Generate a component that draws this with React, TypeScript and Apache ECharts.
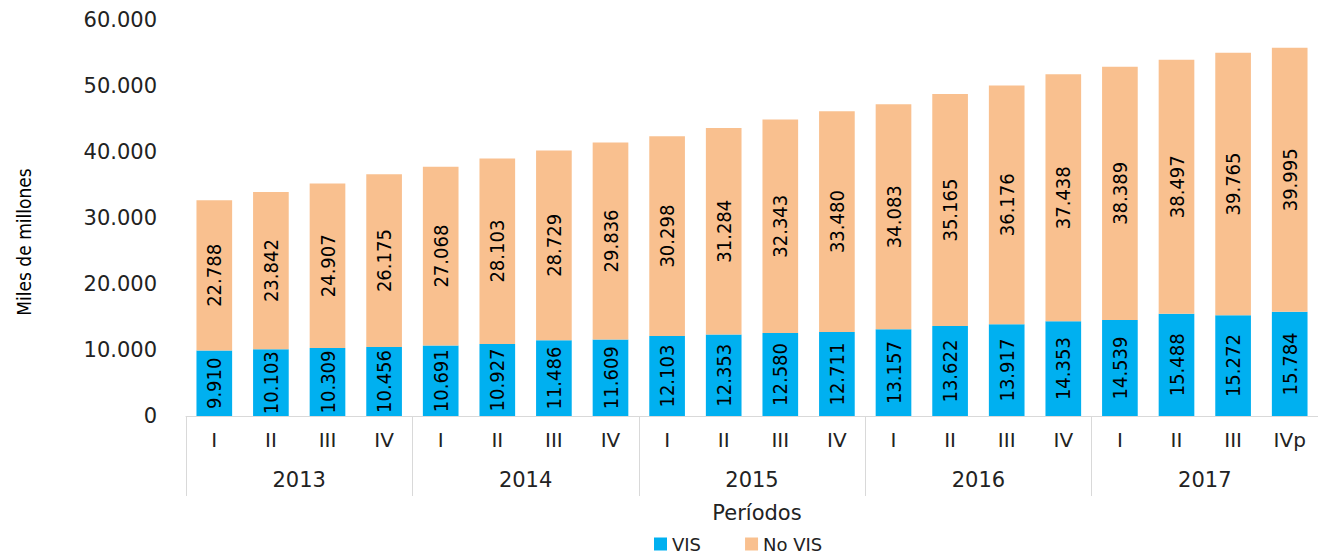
import React, { useEffect, useRef } from "react";
import * as echarts from "echarts";

const quarters = ["I", "II", "III", "IV", "I", "II", "III", "IV", "I", "II", "III", "IV", "I", "II", "III", "IV", "I", "II", "III", "IVp"];
const years = ["2013", "2014", "2015", "2016", "2017"];
const visValues = [9910, 10103, 10309, 10456, 10691, 10927, 11486, 11609, 12103, 12353, 12580, 12711, 13157, 13622, 13917, 14353, 14539, 15488, 15272, 15784];
const noVisValues = [22788, 23842, 24907, 26175, 27068, 28103, 28729, 29836, 30298, 31284, 32343, 33480, 34083, 35165, 36176, 37438, 38389, 38497, 39765, 39995];
const yTicks = [0, 10000, 20000, 30000, 40000, 50000, 60000];

const fmt = (v: number) => String(Math.round(v)).replace(/\B(?=(\d{3})+(?!\d))/g, ".");

const AXIS_FONT = "DejaVu Sans";
const NARROW_FONT = "DejaVu Sans Condensed";

export default function App() {
  const ref = useRef<HTMLDivElement>(null);
  useEffect(() => {
    if (!ref.current) return;
    const chart = echarts.init(ref.current, null, { renderer: "svg" });
    const barLabel = {
      show: true,
      position: "inside",
      rotate: 90,
      color: "#000",
      fontFamily: NARROW_FONT,
      fontSize: 20,
      formatter: (p: any) => fmt(p.value),
    };
    chart.setOption({
      animation: false,
      backgroundColor: "#fff",
      grid: { left: 186, top: 20, width: 1140, height: 396 },
      legend: {
        data: ["VIS", "No VIS"],
        top: 530,
        left: 649,
        itemWidth: 13,
        itemHeight: 13,
        itemGap: 44,
        icon: "rect",
        textStyle: { fontFamily: AXIS_FONT, fontSize: 18, color: "#222" },
      },
      xAxis: [
        {
          type: "category",
          data: quarters,
          position: "bottom",
          axisLine: { show: true, lineStyle: { color: "#D9D9D9", width: 1 } },
          axisTick: { show: false },
          axisLabel: { fontFamily: AXIS_FONT, fontSize: 20, color: "#222", margin: 14 },
        },
        {
          type: "category",
          data: years,
          position: "bottom",
          axisLine: { show: false },
          axisTick: { show: true, length: 80, lineStyle: { color: "#D9D9D9", width: 1 } },
          axisLabel: { fontFamily: AXIS_FONT, fontSize: 21, color: "#222", margin: 53 },
        },
      ],
      yAxis: {
        type: "value",
        min: yTicks[0],
        max: yTicks[yTicks.length - 1],
        interval: 10000,
        axisLine: { show: false },
        axisTick: { show: false },
        splitLine: { show: false },
        axisLabel: { fontFamily: AXIS_FONT, fontSize: 21, color: "#222", margin: 29, formatter: (v: number) => fmt(v) },
      },
      graphic: [
        {
          type: "text",
          x: 24,
          y: 242,
          rotation: Math.PI / 2,
          style: {
            text: "Miles de millones",
            fontFamily: NARROW_FONT,
            fontSize: 19,
            fill: "#000",
            align: "center",
            verticalAlign: "middle",
          },
        },
        {
          type: "text",
          x: 757,
          y: 513,
          style: {
            text: "Períodos",
            fontFamily: AXIS_FONT,
            fontSize: 21,
            fill: "#222",
            align: "center",
            verticalAlign: "middle",
          },
        },
      ],
      series: [
        {
          name: "VIS",
          type: "bar",
          stack: "total",
          data: visValues,
          barWidth: "63%",
          itemStyle: { color: "#00B0F0" },
          label: barLabel,
        },
        {
          name: "No VIS",
          type: "bar",
          stack: "total",
          data: noVisValues,
          barWidth: "63%",
          itemStyle: { color: "#F9C08F" },
          label: barLabel,
        },
      ],
    });
    return () => chart.dispose();
  }, []);
  return <div ref={ref} style={{ position: "absolute", left: 0, top: 0, width: 1318, height: 556 }} />;
}
